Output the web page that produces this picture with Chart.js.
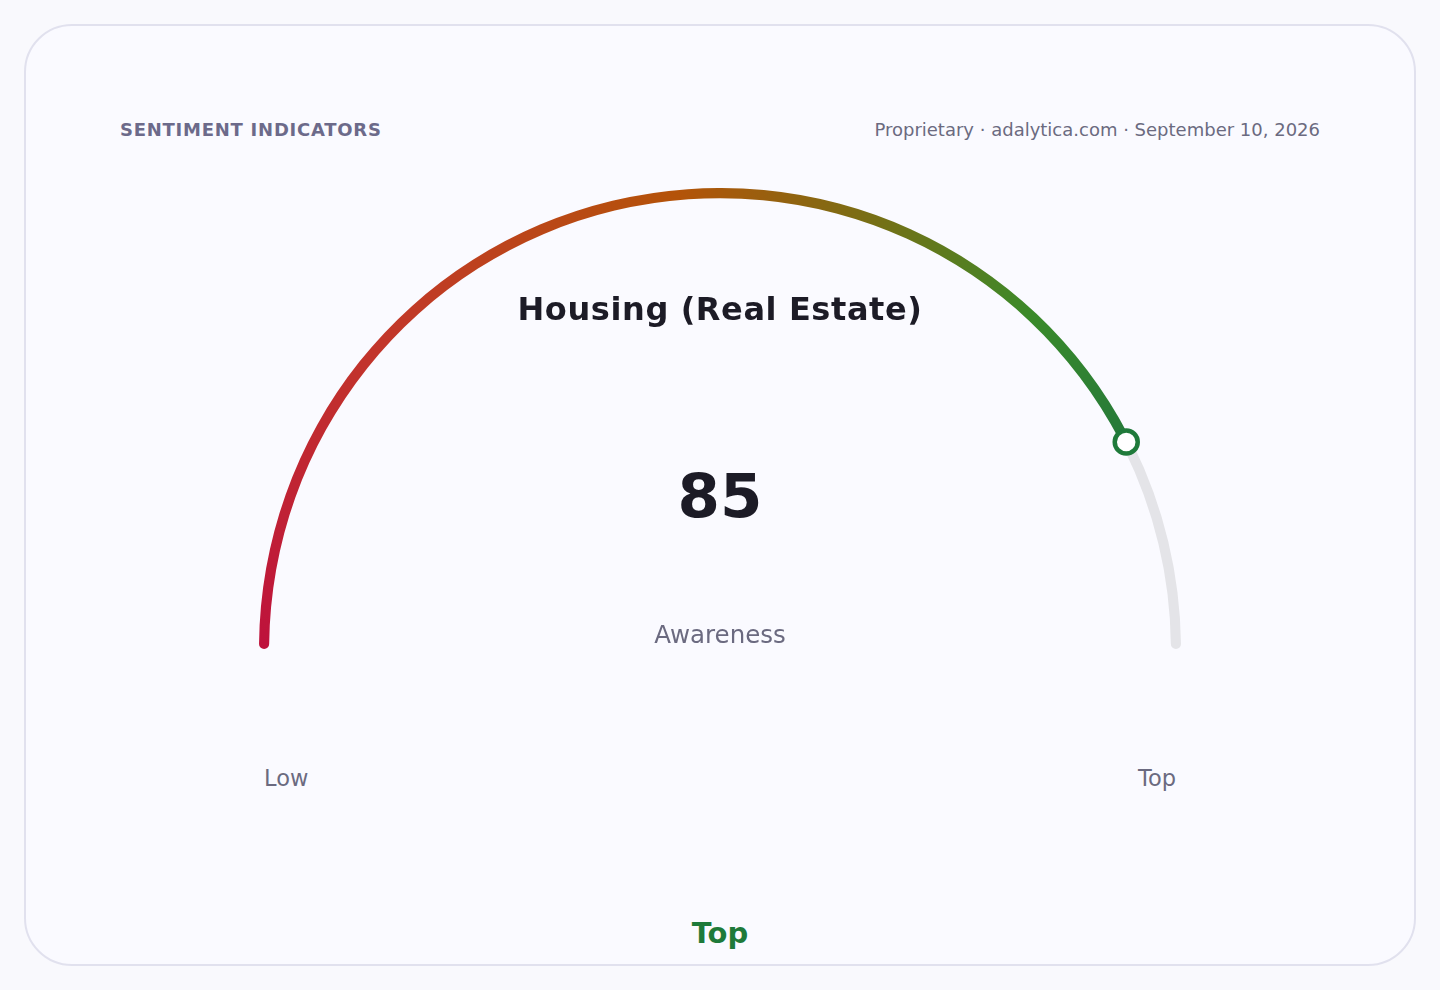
<!DOCTYPE html>
<html>
<head>
<meta charset="utf-8">
<script src="https://cdn.jsdelivr.net/npm/chart.js@4.4.1/dist/chart.umd.min.js"></script>
<style>
  html, body { margin: 0; padding: 0; background: #f9f9fd; font-family: "DejaVu Sans", sans-serif; }
  .page { position: relative; width: 1440px; height: 990px; }
  .card { position: absolute; left: 24px; top: 24px; width: 1388px; height: 938px; border: 2px solid #e1e1ee; border-radius: 48px; background: #fafaff; }
  .kicker { position: absolute; left: 120px; top: 119px; font-size: 18px; font-weight: bold; letter-spacing: 0.75px; color: #6c6a8a; }
  .meta { position: absolute; right: 120px; top: 119px; font-size: 18px; color: #6b6a80; }
  .title { position: absolute; left: 0; width: 1440px; top: 290px; text-align: center; font-size: 32px; font-weight: bold; color: #1c1b26; letter-spacing: 0.6px; }
  .value { position: absolute; left: 0; width: 1440px; top: 460px; text-align: center; font-size: 61px; font-weight: bold; color: #1c1b26; }
  .sub { position: absolute; left: 0; width: 1440px; top: 620px; text-align: center; font-size: 24.5px; color: #6b6a80; }
  .low { position: absolute; left: 264px; top: 765px; font-size: 22.5px; color: #6b6a80; }
  .top { position: absolute; right: 264px; top: 765px; font-size: 22.5px; color: #6b6a80; }
  .verdict { position: absolute; left: 0; width: 1440px; top: 916px; text-align: center; font-size: 29px; font-weight: bold; color: #1e7a3a; }
  .gauge { position: absolute; left: 259px; top: 188px; width: 922px; height: 475px; }
</style>
</head>
<body>
<div class="page">
  <div class="card"></div>
  <div class="kicker">SENTIMENT INDICATORS</div>
  <div class="meta">Proprietary · adalytica.com · September 10, 2026</div>
  <div class="gauge"><canvas id="gauge"></canvas></div>
  <div class="title">Housing (Real Estate)</div>
  <div class="value" id="valueText"></div>
  <div class="sub" id="metricText"></div>
  <div class="low">Low</div>
  <div class="top">Top</div>
  <div class="verdict">Top</div>
</div>
<script>
// gauge data
const metricLabels = ["Awareness", "Remaining"];
const scoreValues = [85];
const scaleMax = [100];

// colour stops along the arc (0 = Low, 1 = Top)
const gradientStops = [
  [0, "#be123c"],
  [0.24, "#c2372a"],
  [0.47, "#b45309"],
  [0.6, "#7b6d14"],
  [0.74, "#3a8a2a"],
  [0.85, "#25793a"],
  [1, "#1f7a3a"]
];

const score = scoreValues[0];
document.getElementById("valueText").textContent = score;
document.getElementById("metricText").textContent = metricLabels[0];

const arcFill = {
  id: "arcFill",
  beforeDatasetsDraw(chart) {
    const arc = chart.getDatasetMeta(0).data[0];
    if (!arc) return;
    const grad = chart.ctx.createConicGradient(Math.PI, arc.x, arc.y);
    gradientStops.forEach(([pos, color]) => grad.addColorStop(pos * 0.5, color));
    grad.addColorStop(1, gradientStops[gradientStops.length - 1][1]);
    arc.options.backgroundColor = grad;
  }
};

const marker = {
  id: "marker",
  afterDatasetsDraw(chart) {
    const arc = chart.getDatasetMeta(0).data[0];
    if (!arc) return;
    const r = (arc.innerRadius + arc.outerRadius) / 2;
    const x = arc.x + Math.cos(arc.endAngle) * r;
    const y = arc.y + Math.sin(arc.endAngle) * r;
    const ctx = chart.ctx;
    ctx.save();
    ctx.beginPath();
    ctx.arc(x, y, 11.5, 0, Math.PI * 2);
    ctx.fillStyle = "#ffffff";
    ctx.fill();
    ctx.lineWidth = 4.5;
    ctx.strokeStyle = "#1f7a3a";
    ctx.stroke();
    ctx.restore();
  }
};

new Chart(document.getElementById("gauge").getContext("2d"), {
  type: "doughnut",
  data: {
    labels: metricLabels,
    datasets: [{
      data: [score, scaleMax[0] - score],
      backgroundColor: ["#be123c", "#e4e4e8"],
      borderWidth: 0,
      borderRadius: 5
    }]
  },
  options: {
    responsive: true,
    maintainAspectRatio: false,
    animation: false,
    rotation: -90,
    circumference: 180,
    cutout: "97.8%",
    layout: { padding: { bottom: 14 } },
    plugins: { legend: { display: false }, tooltip: { enabled: false } }
  },
  plugins: [arcFill, marker]
});
</script>
</body>
</html>
